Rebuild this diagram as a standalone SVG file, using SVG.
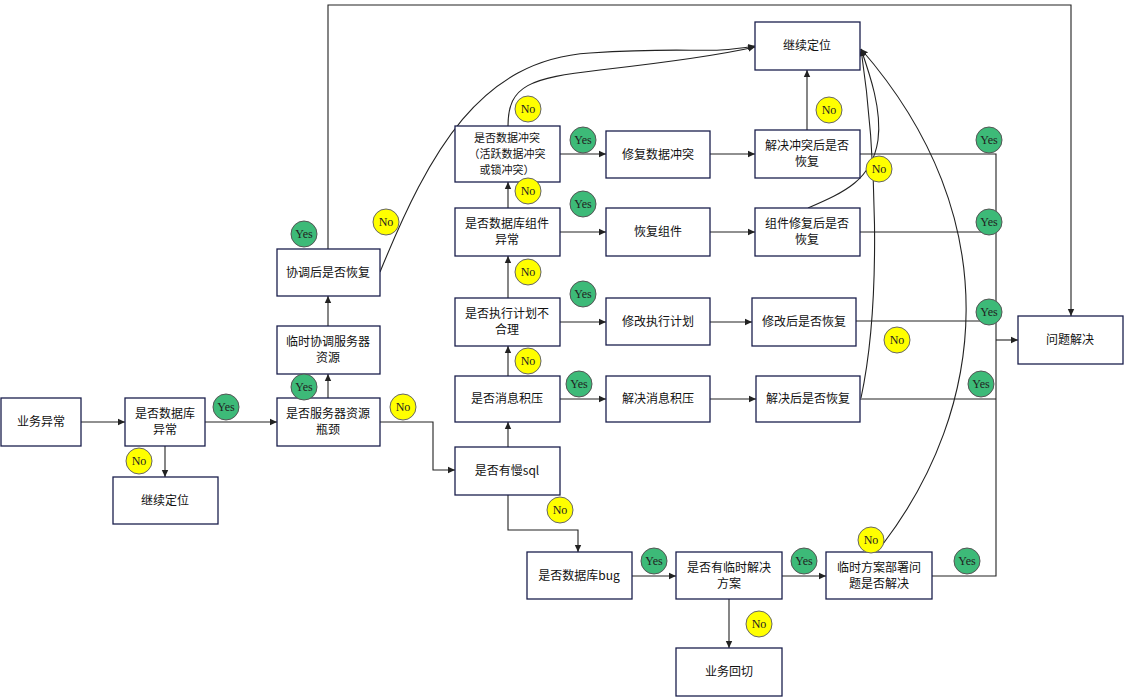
<svg xmlns="http://www.w3.org/2000/svg" width="1124" height="697" viewBox="0 0 1124 697">
<style>
.box{fill:#fff;stroke:#1b1f4d;stroke-width:1.3}
.t{font-family:"Noto Sans CJK SC","Noto Sans",sans-serif;font-size:12px;fill:#111;text-anchor:middle}
.s{font-size:11px}
.ln{fill:none;stroke:#222;stroke-width:1.1}
.yes{fill:#3dba78;stroke:#555;stroke-width:1}
.no{fill:#ffff00;stroke:#666;stroke-width:1}
.ct{font-family:"Liberation Serif",serif;font-size:12px;fill:#222;text-anchor:middle}
</style>
<defs>
<marker id="a" markerWidth="8" markerHeight="8" refX="7" refY="4" orient="auto" markerUnits="userSpaceOnUse">
<path d="M0,0.8 L7,4 L0,7.2 Z" fill="#222"/>
</marker>
</defs>
<rect width="1124" height="697" fill="#fff"/>
<g id="connectors">
<path class="ln" marker-end="url(#a)" d="M81,422 H125"/>
<path class="ln" marker-end="url(#a)" d="M205,422 H277"/>
<path class="ln" marker-end="url(#a)" d="M165,446 V477"/>
<path class="ln" marker-end="url(#a)" d="M328,398 V374"/>
<path class="ln" marker-end="url(#a)" d="M328,326 V296"/>
<path class="ln" marker-end="url(#a)" d="M328,249 V5 H1071 V316"/>
<path class="ln" marker-end="url(#a)" d="M380,422 H433 V470 H455"/>
<path class="ln" marker-end="url(#a)" d="M508,447 V422"/>
<path class="ln" marker-end="url(#a)" d="M508,376 V346"/>
<path class="ln" marker-end="url(#a)" d="M508,298 V256"/>
<path class="ln" marker-end="url(#a)" d="M508,208 V182"/>
<path class="ln" marker-end="url(#a)" d="M560,154 H606"/>
<path class="ln" marker-end="url(#a)" d="M710,154 H755"/>
<path class="ln" marker-end="url(#a)" d="M560,232 H606"/>
<path class="ln" marker-end="url(#a)" d="M710,232 H755"/>
<path class="ln" marker-end="url(#a)" d="M560,322 H606"/>
<path class="ln" marker-end="url(#a)" d="M710,322 H752"/>
<path class="ln" marker-end="url(#a)" d="M560,399 H606"/>
<path class="ln" marker-end="url(#a)" d="M710,399 H756"/>
<path class="ln" marker-end="url(#a)" d="M807,130 V70"/>
<path class="ln" d="M860,154 H996 V576 H932"/>
<path class="ln" d="M860,232 H996"/>
<path class="ln" d="M856,321 H996"/>
<path class="ln" d="M860,399 H996"/>
<path class="ln" marker-end="url(#a)" d="M996,340 H1018"/>
<path class="ln" marker-end="url(#a)" d="M508,495 V530 H578 V552"/>
<path class="ln" marker-end="url(#a)" d="M632,576 H676"/>
<path class="ln" marker-end="url(#a)" d="M782,576 H826"/>
<path class="ln" marker-end="url(#a)" d="M729,599 V648"/>
<path class="ln" marker-end="url(#a)" d="M380,272 C430,150 480,60 590,53 S700,55 755,46"/>
<path class="ln" marker-end="url(#a)" d="M508,126 C508,85 530,78 600,70 S720,55 755,47"/>
<path class="ln" marker-end="url(#a)" d="M808,208 C845,192 872,180 878,140 C882,110 870,75 861,49"/>
<path class="ln" marker-end="url(#a)" d="M861,398 C882,300 876,150 861,49"/>
<path class="ln" marker-end="url(#a)" d="M883,544 C985,410 1010,220 861,49"/>
</g>
<g id="n1"><rect class="box" x="1" y="398" width="80" height="48"/><text class="t" x="41" y="426">业务异常</text></g>
<g id="n2"><rect class="box" x="125" y="398" width="80" height="48"/><text class="t" x="165" y="418">是否数据库</text><text class="t" x="165" y="434">异常</text></g>
<g id="n3"><rect class="box" x="113" y="477" width="105" height="47"/><text class="t" x="165" y="505">继续定位</text></g>
<g id="n4"><rect class="box" x="277" y="398" width="103" height="48"/><text class="t" x="328" y="418">是否服务器资源</text><text class="t" x="328" y="434">瓶颈</text></g>
<g id="n5"><rect class="box" x="277" y="326" width="103" height="48"/><text class="t" x="328" y="346">临时协调服务器</text><text class="t" x="328" y="362">资源</text></g>
<g id="n6"><rect class="box" x="277" y="249" width="103" height="47"/><text class="t" x="328" y="277">协调后是否恢复</text></g>
<g id="n7"><rect class="box" x="455" y="126" width="105" height="56"/><text class="t s" x="507" y="142">是否数据冲突</text><text class="t s" x="507" y="158">（活跃数据冲突</text><text class="t s" x="507" y="174">或锁冲突）</text></g>
<g id="n8"><rect class="box" x="455" y="208" width="105" height="48"/><text class="t" x="507" y="228">是否数据库组件</text><text class="t" x="507" y="244">异常</text></g>
<g id="n9"><rect class="box" x="455" y="298" width="105" height="48"/><text class="t" x="507" y="318">是否执行计划不</text><text class="t" x="507" y="334">合理</text></g>
<g id="n10"><rect class="box" x="455" y="376" width="105" height="46"/><text class="t" x="507" y="403">是否消息积压</text></g>
<g id="n11"><rect class="box" x="455" y="447" width="105" height="48"/><text class="t" x="507" y="475">是否有慢sql</text></g>
<g id="n12"><rect class="box" x="606" y="131" width="104" height="47"/><text class="t" x="658" y="159">修复数据冲突</text></g>
<g id="n13"><rect class="box" x="606" y="208" width="104" height="48"/><text class="t" x="658" y="236">恢复组件</text></g>
<g id="n14"><rect class="box" x="606" y="298" width="104" height="47"/><text class="t" x="658" y="326">修改执行计划</text></g>
<g id="n15"><rect class="box" x="606" y="376" width="104" height="46"/><text class="t" x="658" y="403">解决消息积压</text></g>
<g id="n16"><rect class="box" x="755" y="22" width="105" height="48"/><text class="t" x="807" y="50">继续定位</text></g>
<g id="n17"><rect class="box" x="755" y="130" width="105" height="48"/><text class="t" x="807" y="150">解决冲突后是否</text><text class="t" x="807" y="166">恢复</text></g>
<g id="n18"><rect class="box" x="755" y="208" width="105" height="48"/><text class="t" x="807" y="228">组件修复后是否</text><text class="t" x="807" y="244">恢复</text></g>
<g id="n19"><rect class="box" x="752" y="298" width="104" height="48"/><text class="t" x="804" y="326">修改后是否恢复</text></g>
<g id="n20"><rect class="box" x="756" y="376" width="104" height="46"/><text class="t" x="808" y="403">解决后是否恢复</text></g>
<g id="n21"><rect class="box" x="1018" y="316" width="105" height="48"/><text class="t" x="1070" y="344">问题解决</text></g>
<g id="n22"><rect class="box" x="527" y="552" width="105" height="47"/><text class="t" x="579" y="580">是否数据库bug</text></g>
<g id="n23"><rect class="box" x="676" y="552" width="106" height="47"/><text class="t" x="729" y="572">是否有临时解决</text><text class="t" x="729" y="588">方案</text></g>
<g id="n24"><rect class="box" x="826" y="552" width="106" height="47"/><text class="t" x="879" y="572">临时方案部署问</text><text class="t" x="879" y="588">题是否解决</text></g>
<g id="n25"><rect class="box" x="676" y="648" width="106" height="48"/><text class="t" x="729" y="676">业务回切</text></g>
<g id="labels">
<circle class="yes" cx="226" cy="407" r="13"/><text class="ct" x="226" y="411">Yes</text>
<circle class="no" cx="139" cy="461" r="13"/><text class="ct" x="139" y="465">No</text>
<circle class="yes" cx="304" cy="234" r="13"/><text class="ct" x="304" y="238">Yes</text>
<circle class="yes" cx="304" cy="387" r="13"/><text class="ct" x="304" y="391">Yes</text>
<circle class="no" cx="386" cy="222" r="13"/><text class="ct" x="386" y="226">No</text>
<circle class="no" cx="403" cy="407" r="13"/><text class="ct" x="403" y="411">No</text>
<circle class="no" cx="528" cy="109" r="13"/><text class="ct" x="528" y="113">No</text>
<circle class="yes" cx="583" cy="140" r="13"/><text class="ct" x="583" y="144">Yes</text>
<circle class="no" cx="528" cy="191" r="13"/><text class="ct" x="528" y="195">No</text>
<circle class="yes" cx="583" cy="204" r="13"/><text class="ct" x="583" y="208">Yes</text>
<circle class="no" cx="528" cy="272" r="13"/><text class="ct" x="528" y="276">No</text>
<circle class="yes" cx="583" cy="294" r="13"/><text class="ct" x="583" y="298">Yes</text>
<circle class="no" cx="528" cy="361" r="13"/><text class="ct" x="528" y="365">No</text>
<circle class="yes" cx="579" cy="384" r="13"/><text class="ct" x="579" y="388">Yes</text>
<circle class="no" cx="560" cy="510" r="13"/><text class="ct" x="560" y="514">No</text>
<circle class="no" cx="829" cy="110" r="13"/><text class="ct" x="829" y="114">No</text>
<circle class="no" cx="879" cy="169" r="13"/><text class="ct" x="879" y="173">No</text>
<circle class="yes" cx="989" cy="140" r="13"/><text class="ct" x="989" y="144">Yes</text>
<circle class="yes" cx="989" cy="222" r="13"/><text class="ct" x="989" y="226">Yes</text>
<circle class="yes" cx="989" cy="312" r="13"/><text class="ct" x="989" y="316">Yes</text>
<circle class="no" cx="897" cy="340" r="13"/><text class="ct" x="897" y="344">No</text>
<circle class="yes" cx="981" cy="384" r="13"/><text class="ct" x="981" y="388">Yes</text>
<circle class="yes" cx="654" cy="561" r="13"/><text class="ct" x="654" y="565">Yes</text>
<circle class="yes" cx="804" cy="561" r="13"/><text class="ct" x="804" y="565">Yes</text>
<circle class="no" cx="871" cy="540" r="13"/><text class="ct" x="871" y="544">No</text>
<circle class="no" cx="759" cy="624" r="13"/><text class="ct" x="759" y="628">No</text>
<circle class="yes" cx="967" cy="561" r="13"/><text class="ct" x="967" y="565">Yes</text>
</g>
</svg>
